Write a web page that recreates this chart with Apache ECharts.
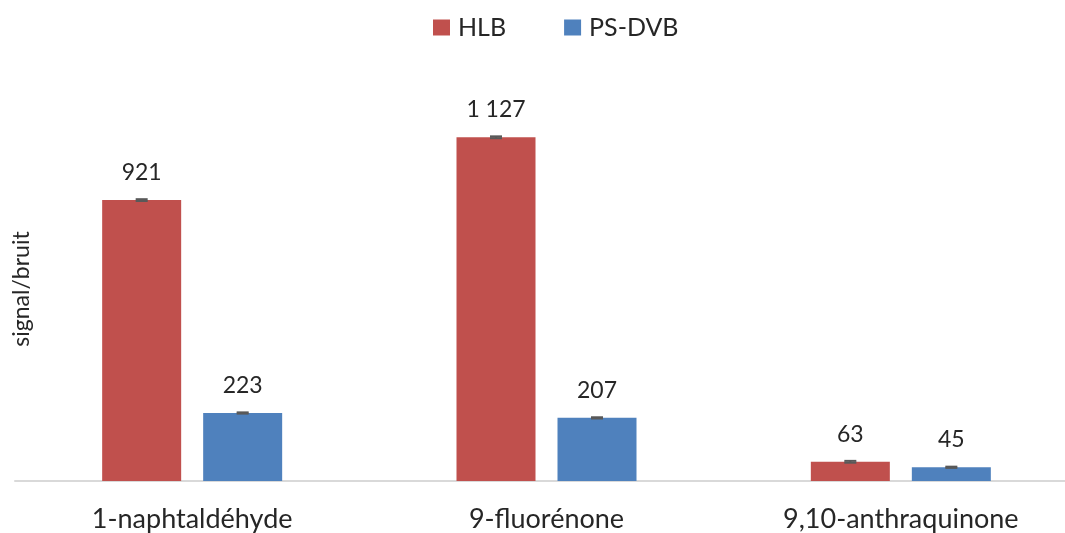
<!DOCTYPE html>
<html>
<head>
<meta charset="utf-8">
<script src="https://cdn.jsdelivr.net/npm/echarts@6/dist/echarts.min.js"></script>
<style>
  html, body { margin: 0; padding: 0; background: #fff; }
  #chart { width: 1065px; height: 533px; }
</style>
</head>
<body>
<div id="chart"></div>
<script>
// Signal-to-noise ratio per compound for two sorbents
const categories = ['1-naphtaldéhyde', '9-fluorénone', '9,10-anthraquinone'];
const seriesNames = ['HLB', 'PS-DVB'];
const hlbValues = [921, 1127, 63];
const psdvbValues = [223, 207, 45];
const hlbErrors = [3, 3, 3];
const psdvbErrors = [2, 2, 2];

const colors = ['#C0504D', '#4F81BD'];
const FONT = 'Lato, "Open Sans", sans-serif';
const TEXT = '#262626';

const BAR_W = 79;
const BAR_GAP = 22;

function fmt(v) {
  return String(v).replace(/\B(?=(\d{3})+(?!\d))/g, ' ');
}

// small error whiskers drawn on top of each bar
function errorSeries(values, errors, offset) {
  return {
    type: 'custom',
    z: 10,
    silent: true,
    data: values.map((v, i) => [i, v, errors[i]]),
    renderItem: function (params, api) {
      const i = api.value(0);
      const v = api.value(1);
      const e = api.value(2);
      const hi = api.coord([i, v + e]);
      const lo = api.coord([i, v - e]);
      const x = hi[0] + offset;
      const half = 6;
      const style = { stroke: '#595959', lineWidth: 2 };
      return {
        type: 'group',
        children: [
          { type: 'line', shape: { x1: x, y1: hi[1], x2: x, y2: lo[1] }, style },
          { type: 'line', shape: { x1: x - half, y1: hi[1], x2: x + half, y2: hi[1] }, style },
          { type: 'line', shape: { x1: x - half, y1: lo[1], x2: x + half, y2: lo[1] }, style }
        ]
      };
    }
  };
}

const off = (BAR_W + BAR_GAP) / 2;

const valueLabel = {
  show: true, position: 'top', distance: 16,
  fontSize: 23, color: TEXT, fontFamily: FONT,
  formatter: p => fmt(p.value)
};

const chart = echarts.init(document.getElementById('chart'));
chart.setOption({
  animation: false,
  color: colors,
  textStyle: { fontFamily: FONT },
  legend: {
    data: seriesNames,
    top: 15,
    left: 433,
    padding: 0,
    itemWidth: 17,
    itemHeight: 16,
    itemGap: 58,
    icon: 'rect',
    textStyle: { fontSize: 25, color: TEXT, fontFamily: FONT, padding: [0, 0, 0, 3] }
  },
  grid: { left: 15, top: 115, width: 1063, height: 366, outerBoundsMode: 'none', containLabel: false },
  xAxis: {
    type: 'category',
    data: categories,
    axisLine: { lineStyle: { color: '#D9D9D9', width: 2 } },
    axisTick: { show: false },
    axisLabel: { fontSize: 27, color: TEXT, margin: 25, fontFamily: FONT }
  },
  yAxis: {
    type: 'value',
    min: 0,
    max: 1200,
    name: 'signal/bruit',
    nameLocation: 'middle',
    nameRotate: 90,
    nameGap: -18,
    nameTextStyle: { fontSize: 23, color: TEXT, fontFamily: FONT, padding: [0, 0, 0, 18] },
    axisLine: { show: false },
    axisTick: { show: false },
    axisLabel: { show: false },
    splitLine: { show: false }
  },
  series: [
    {
      name: seriesNames[0],
      type: 'bar',
      barWidth: BAR_W,
      barGap: (BAR_GAP / BAR_W * 100) + '%',
      data: hlbValues,
      label: valueLabel
    },
    {
      name: seriesNames[1],
      type: 'bar',
      barWidth: BAR_W,
      data: psdvbValues,
      label: valueLabel
    },
    errorSeries(hlbValues, hlbErrors, -off),
    errorSeries(psdvbValues, psdvbErrors, off)
  ]
});
</script>
</body>
</html>
